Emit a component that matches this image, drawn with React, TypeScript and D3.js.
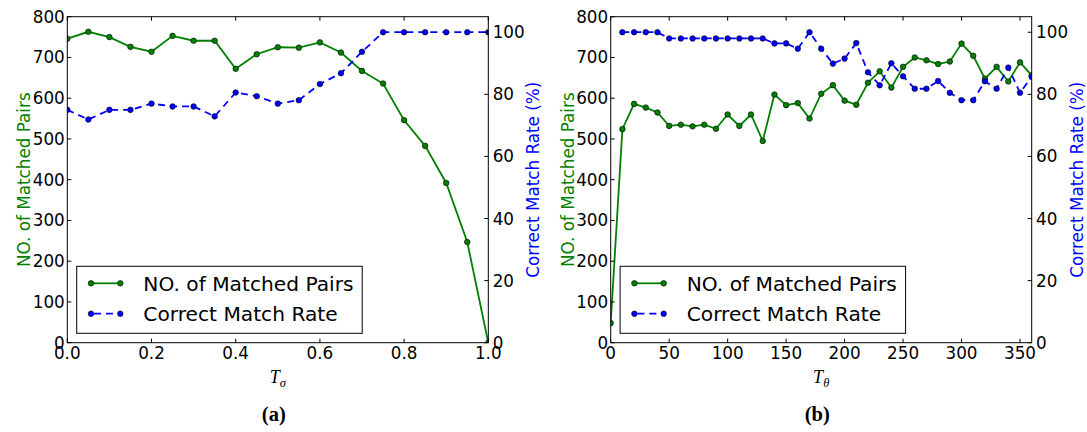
import React from "react";
import * as d3 from "d3";

// ---------- data ----------
const tSigma = [0, 0.05, 0.1, 0.15, 0.2, 0.25, 0.3, 0.35, 0.4, 0.45, 0.5, 0.55, 0.6, 0.65, 0.7, 0.75, 0.8, 0.85, 0.9, 0.95, 1.0];
const pairsSigma = [746, 763, 750, 726, 714, 753, 741, 741, 672, 708, 725, 724, 737, 712, 667, 636, 546, 483, 392, 247, 0];
const rateSigma = [75, 71.9, 75, 75, 77, 76.1, 76.1, 72.9, 80.6, 79.4, 77, 78.1, 83.3, 86.8, 93.7, 100, 100, 100, 100, 100, 100];

const tTheta = [0, 10, 20, 30, 40, 50, 60, 70, 80, 90, 100, 110, 120, 130, 140, 150, 160, 170, 180, 190, 200, 210, 220, 230, 240, 250, 260, 270, 280, 290, 300, 310, 320, 330, 340, 350, 360];
const pairsTheta = [48, 524, 586, 577, 565, 532, 535, 531, 535, 525, 560, 532, 560, 495, 609, 583, 588, 550, 611, 632, 594, 584, 638, 666, 626, 677, 700, 693, 684, 690, 734, 704, 648, 677, 641, 688, 656];
const rateTheta: (number | null)[] = [null, 100, 100, 100, 100, 98, 98, 98, 98, 98, 98, 98, 98, 98, 96.4, 96.4, 94.7, 100, 94.7, 89.9, 91.5, 96.5, 87.1, 82.9, 90, 85.8, 81.8, 81.8, 84.3, 80.5, 78.1, 78.1, 84.2, 81.8, 88.6, 80.5, 85.6];

const xTicksSigma = [0, 0.2, 0.4, 0.6, 0.8, 1.0];
const xTicksTheta = [0, 50, 100, 150, 200, 250, 300, 350];
const leftTicks = [0, 100, 200, 300, 400, 500, 600, 700, 800];
const rightTicks = [0, 20, 40, 60, 80, 100];

const legendLabels = ["NO. of Matched Pairs", "Correct Match Rate"];

const GREEN = "#008000";
const BLUE = "#0000ff";
const SANS = "DejaVu Sans, sans-serif";
const SERIF = "Liberation Serif, DejaVu Serif, serif";

const TOP = 16.7;
const BOTTOM = 342.7;
const WIDTH = 421;

type PanelProps = {
  id: string;
  left: number;
  xs: number[];
  xDomain: [number, number];
  xTicks: number[];
  xFmt: (v: number) => string;
  pairs: number[];
  rates: (number | null)[];
  sub: string;
  caption: string;
};

function Panel({ id, left, xs, xDomain, xTicks, xFmt, pairs, rates, sub, caption }: PanelProps) {
  const right = left + WIDTH;
  const x = d3.scaleLinear().domain(xDomain).range([left, right]);
  const yL = d3.scaleLinear().domain([0, 800]).range([BOTTOM, TOP]);
  const yR = d3.scaleLinear().domain([0, 105]).range([BOTTOM, TOP]);

  const pairPts = xs.map((v, i) => ({ x: v, y: pairs[i] }));
  const ratePts = xs.map((v, i) => ({ x: v, y: rates[i] }));

  const lineL = d3
    .line<{ x: number; y: number }>()
    .x((d) => x(d.x))
    .y((d) => yL(d.y));
  const lineR = d3
    .line<{ x: number; y: number | null }>()
    .defined((d) => d.y !== null)
    .x((d) => x(d.x))
    .y((d) => yR(d.y as number));

  const cx = (left + right) / 2;
  const tickLen = 4;
  const legX = left + 9.4;
  const legY = 266.3;
  const row1 = 283.3;
  const row2 = 313.7;
  const R = 2.8;

  return (
    <g>
      <defs>
        <clipPath id={"clip-" + id}>
          <rect x={left} y={TOP} width={WIDTH} height={BOTTOM - TOP} />
        </clipPath>
      </defs>
      {/* data */}
      <g clipPath={`url(#clip-${id})`}>
        <path d={lineL(pairPts) || ""} fill="none" stroke={GREEN} strokeWidth={1.8} />
        {pairPts.map((d, i) => (
          <circle key={"g" + i} cx={x(d.x)} cy={yL(d.y)} r={R} fill={GREEN} stroke="#000" strokeWidth={0.6} />
        ))}
        <path d={lineR(ratePts) || ""} fill="none" stroke={BLUE} strokeWidth={1.8} strokeDasharray="7,5" />
        {ratePts
          .filter((d) => d.y !== null)
          .map((d, i) => (
            <circle key={"b" + i} cx={x(d.x)} cy={yR(d.y as number)} r={R} fill={BLUE} stroke="#000" strokeWidth={0.6} />
          ))}
      </g>
      {/* frame */}
      <rect x={left} y={TOP} width={WIDTH} height={BOTTOM - TOP} fill="none" stroke="#000" strokeWidth={1} />
      {/* x ticks */}
      {xTicks.map((t) => (
        <g key={"xt" + t}>
          <line x1={x(t)} x2={x(t)} y1={BOTTOM} y2={BOTTOM - tickLen} stroke="#000" strokeWidth={1} />
          <line x1={x(t)} x2={x(t)} y1={TOP} y2={TOP + tickLen} stroke="#000" strokeWidth={1} />
          <text x={x(t)} y={BOTTOM + 16.5} textAnchor="middle" fontFamily={SANS} fontSize={16.8} fill="#000">
            {xFmt(t)}
          </text>
        </g>
      ))}
      {/* left ticks */}
      {leftTicks.map((t) => (
        <g key={"lt" + t}>
          <line x1={left} x2={left + tickLen} y1={yL(t)} y2={yL(t)} stroke="#000" strokeWidth={1} />
          <text x={left - 2.5} y={yL(t)} dy="0.36em" textAnchor="end" fontFamily={SANS} fontSize={16.8} fill="#000">
            {t}
          </text>
        </g>
      ))}
      {/* right ticks */}
      {rightTicks.map((t) => (
        <g key={"rt" + t}>
          <line x1={right} x2={right - tickLen} y1={yR(t)} y2={yR(t)} stroke="#000" strokeWidth={1} />
          <text x={right + 4.4} y={yR(t)} dy="0.36em" textAnchor="start" fontFamily={SANS} fontSize={16.8} fill="#000">
            {t}
          </text>
        </g>
      ))}
      {/* axis labels */}
      <text
        transform={`translate(${left - 43},${(TOP + BOTTOM) / 2}) rotate(-90)`}
        textAnchor="middle"
        dy="0.36em"
        fontFamily={SANS}
        fontSize={16.8}
        fill={GREEN}
      >
        NO. of Matched Pairs
      </text>
      <text
        transform={`translate(${right + 45},${(TOP + BOTTOM) / 2}) rotate(-90)`}
        textAnchor="middle"
        dy="0.36em"
        fontFamily={SANS}
        fontSize={16.8}
        fill={BLUE}
      >
        Correct Match Rate (%)
      </text>
      {/* x label */}
      <text x={cx} y={383} textAnchor="middle" fontFamily={SERIF} fontStyle="italic" fontSize={18} fill="#000">
        <tspan>T</tspan>
        <tspan fontSize={12.5} dy={4}>
          {sub}
        </tspan>
      </text>
      {/* caption */}
      <text x={cx - 4} y={421} textAnchor="middle" fontFamily={SERIF} fontWeight="bold" fontSize={20.5} fill="#000">
        {caption}
      </text>
      {/* legend */}
      <rect x={legX} y={legY} width={285.5} height={67} fill="#fff" stroke="#000" strokeWidth={1} />
      <line x1={left + 23.7} x2={left + 53} y1={row1} y2={row1} stroke={GREEN} strokeWidth={1.8} />
      <circle cx={left + 23.7} cy={row1} r={R} fill={GREEN} stroke="#000" strokeWidth={0.6} />
      <circle cx={left + 53} cy={row1} r={R} fill={GREEN} stroke="#000" strokeWidth={0.6} />
      <text x={left + 76} y={row1} dy="0.36em" fontFamily={SANS} fontSize={20.2} fill="#000">
        {legendLabels[0]}
      </text>
      <line x1={left + 23.7} x2={left + 53} y1={row2} y2={row2} stroke={BLUE} strokeWidth={1.8} strokeDasharray="7,5" strokeDashoffset={-3} />
      <circle cx={left + 23.7} cy={row2} r={R} fill={BLUE} stroke="#000" strokeWidth={0.6} />
      <circle cx={left + 53} cy={row2} r={R} fill={BLUE} stroke="#000" strokeWidth={0.6} />
      <text x={left + 76} y={row2} dy="0.36em" fontFamily={SANS} fontSize={20.2} fill="#000">
        {legendLabels[1]}
      </text>
    </g>
  );
}

export default function App() {
  return (
    <svg
      width={1087}
      height={432}
      viewBox="0 0 1087 432"
      style={{ position: "absolute", left: 0, top: 0, background: "#fff" }}
    >
      <rect x={0} y={0} width={1087} height={432} fill="#fff" />
      <Panel
        id="a"
        left={67.3}
        xs={tSigma}
        xDomain={[0, 1]}
        xTicks={xTicksSigma}
        xFmt={(v) => d3.format(".1f")(v)}
        pairs={pairsSigma}
        rates={rateSigma}
        sub="σ"
        caption="(a)"
      />
      <Panel
        id="b"
        left={610.7}
        xs={tTheta}
        xDomain={[0, 360]}
        xTicks={xTicksTheta}
        xFmt={(v) => String(v)}
        pairs={pairsTheta}
        rates={rateTheta}
        sub="θ"
        caption="(b)"
      />
    </svg>
  );
}
